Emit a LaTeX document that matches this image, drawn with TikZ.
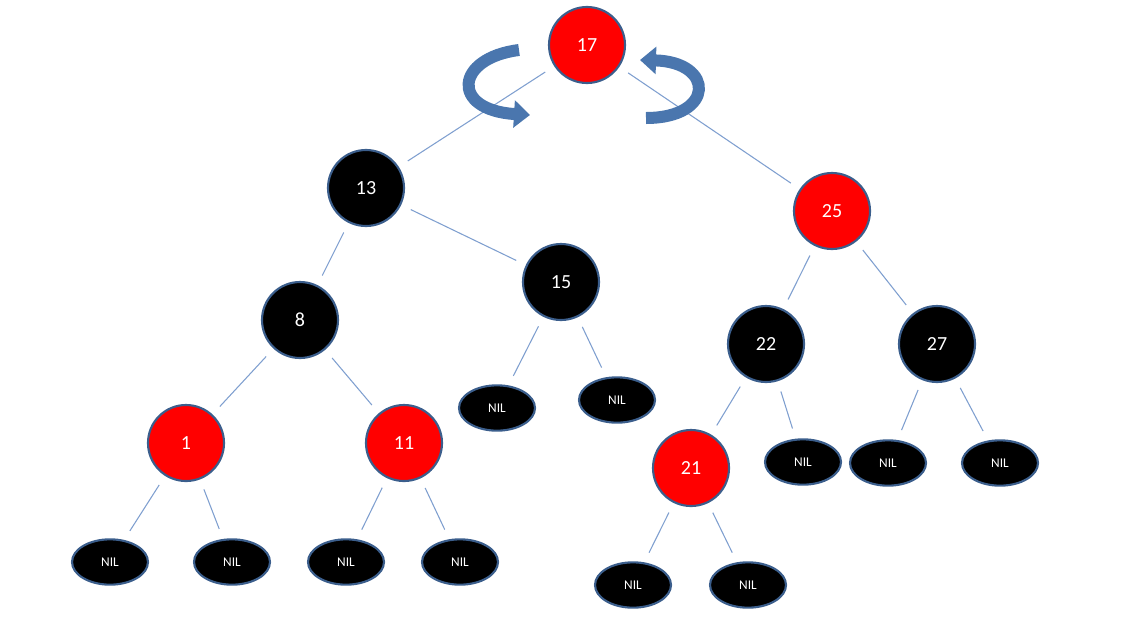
\documentclass[tikz,border=0pt]{standalone}
\usepackage{fontspec}
\setmainfont{Carlito}
\usetikzlibrary{arrows.meta}
\definecolor{bord}{HTML}{3B5E8C}
\definecolor{edge}{HTML}{7F9FCF}
\definecolor{rot}{HTML}{4A76AE}
\begin{document}
\begin{tikzpicture}[x=0.75pt,y=-0.75pt,
  rb/.style={circle,draw=bord,line width=1.6pt,fill=red,text=white,minimum size=57pt,inner sep=0pt,font=\fontsize{15}{15}\selectfont},
  bb/.style={rb,fill=black},
  nil/.style={ellipse,draw=bord,line width=1.6pt,fill=black,text=white,minimum width=57pt,minimum height=34pt,inner sep=0pt,font=\fontsize{10}{10}\selectfont},
  ed/.style={draw=edge,line width=0.8pt,shorten <=8pt,shorten >=8pt},
  rotarr/.style={draw=rot,line width=9pt,-{Triangle[length=12pt,width=20pt]}}]
\useasboundingbox (0,0) rectangle (1121,629);
\usetikzlibrary{shapes.geometric}
\node[rb] (n17) at (587,45) {17};
\node[bb] (n13) at (366,188) {13};
\node[rb] (n25) at (832,211) {25};
\node[bb] (n8) at (300,320) {8};
\node[bb] (n15) at (561,282) {15};
\node[bb] (n22) at (766,344) {22};
\node[bb] (n27) at (937,344) {27};
\node[rb] (n1) at (186,443) {1};
\node[rb] (n11) at (404,443) {11};
\node[rb] (n21) at (691,468) {21};
\node[nil] (a) at (110,562) {NIL};
\node[nil] (b) at (232,562) {NIL};
\node[nil] (c) at (346,562) {NIL};
\node[nil] (d) at (460,562) {NIL};
\node[nil] (e) at (497,408) {NIL};
\node[nil] (f) at (617,400) {NIL};
\node[nil] (g) at (633,585) {NIL};
\node[nil] (h) at (748,585) {NIL};
\node[nil] (i) at (803,462) {NIL};
\node[nil] (j) at (888,463) {NIL};
\node[nil] (k) at (1000,463) {NIL};
\foreach \p/\c in {n17/n13,n17/n25,n13/n8,n13/n15,n25/n22,n25/n27,n8/n1,n8/n11,n15/e,n15/f,n22/n21,n22/i,n27/j,n27/k,n1/a,n1/b,n11/c,n11/d,n21/g,n21/h}
  \draw[ed] (\p) -- (\c);
\coordinate (l1) at (519,50);
\coordinate (l2) at (530,115);
\coordinate (r1) at (646,118);
\coordinate (r2) at (640,60);
\draw[rotarr] (l1) .. controls (455,58) and (450,110) .. (l2);
\draw[rotarr] (r1) .. controls (715,118) and (715,62) .. (r2);
\end{tikzpicture}
\end{document}
